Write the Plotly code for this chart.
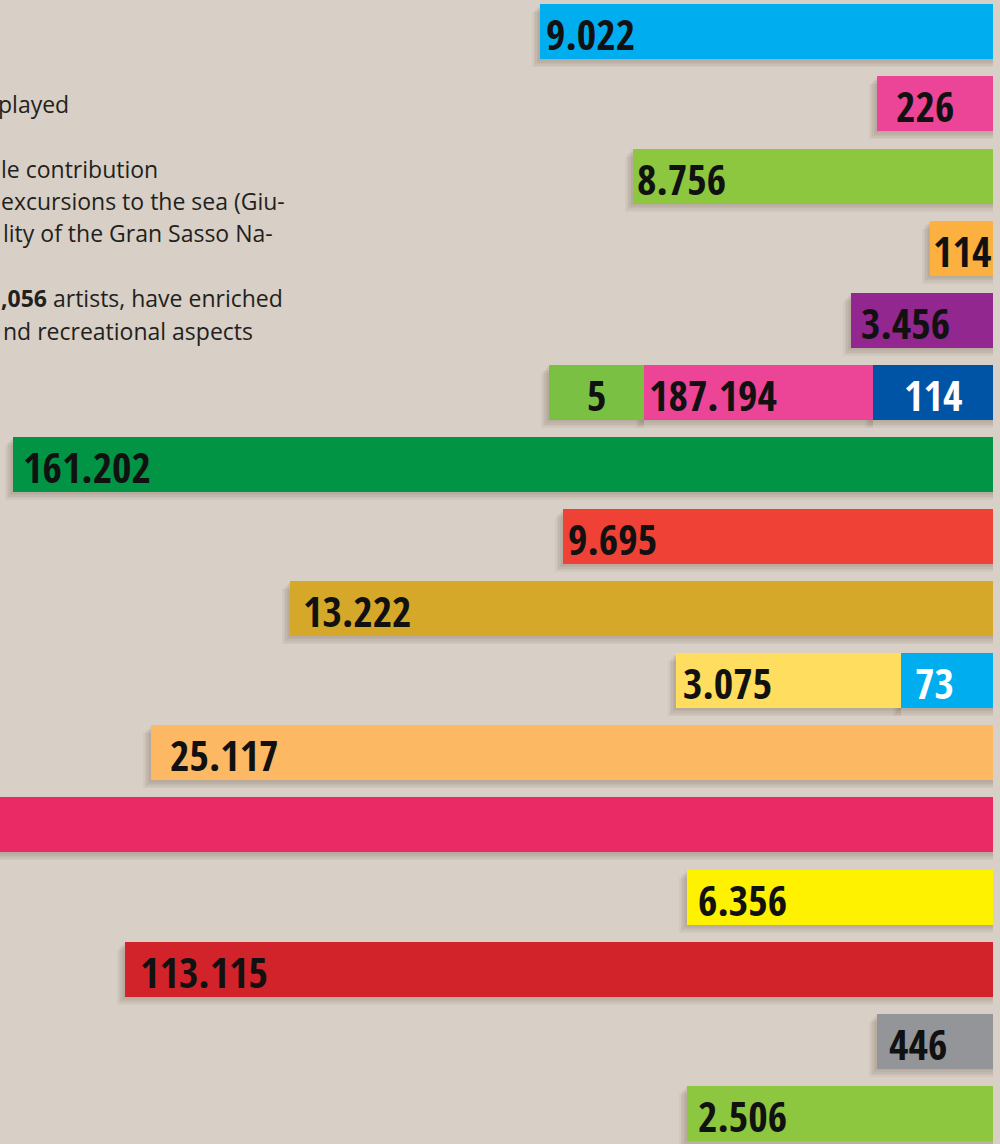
import plotly.graph_objects as go

# ---------------- data ----------------
# one entry per bar segment, top row = 0; segments of a stacked row are listed from the right edge leftwards
seg_row = [0, 1, 2, 3, 4, 5, 5, 5, 6, 7, 8, 9, 9, 10, 11, 12, 13, 14, 15]
seg_length = [453, 116, 360, 63, 142, 120, 229, 95, 980, 430, 703, 92, 225, 842, 1010, 306, 868, 116, 306]
seg_label = ["9.022", "226", "8.756", "114", "3.456", "114", "187.194", "5", "161.202", "9.695",
             "13.222", "73", "3.075", "25.117", "", "6.356", "113.115", "446", "2.506"]

# ---------------- styles ----------------
seg_color = ["#00AEEF", "#EC4598", "#8DC63F", "#FBB040", "#92278F", "#0054A6", "#EC4598", "#7AC143",
             "#009444", "#EF4136", "#D5A82A", "#00AEEF", "#FFDD5E", "#FDB863", "#EA2A64", "#FFF200",
             "#D2232A", "#939598", "#8DC63F"]
label_color = ["#111", "#111", "#111", "#111", "#111", "#FFFFFF", "#111", "#111", "#111", "#111",
               "#111", "#FFFFFF", "#111", "#111", "#111", "#111", "#111", "#111", "#111"]
label_center = [False, False, False, True, False, True, False, True, False, False,
                False, False, False, False, False, False, False, False, False]
label_pad = [4, 17, 2, 0, 8, 0, 3, 0, 8, 3, 11, 12, 5, 17, 0, 9, 13, 10, 9]

text_lines = ["played", "le contribution", "excursions to the sea (Giu-", "lity of the Gran Sasso Na-",
              "<b>,056</b> artists, have enriched", "nd recreational aspects"]
text_line_y = [104, 169, 201, 233, 298, 331]
text_line_x = [-3, 0, 0, 2, 0, 2]

BG = "#D8CFC6"
BAR_W = 0.763

# ---------------- stacking ----------------
seg_base = []
acc = {}
for r, L in zip(seg_row, seg_length):
    b = acc.get(r, 0)
    seg_base.append(b)
    acc[r] = b + L

fig = go.Figure()

# soft drop shadow (several translucent layers)
for k in range(1, 6):
    d = 1.6 * k
    fig.add_trace(go.Bar(
        orientation="h", y=seg_row, x=[L + d for L in seg_length], base=seg_base,
        width=BAR_W, offset=-BAR_W / 2 + d / 72.1,
        marker=dict(color="rgba(70,50,40,0.05)", line=dict(width=0)),
        hoverinfo="skip", showlegend=False))

fig.add_trace(go.Bar(
    orientation="h", y=seg_row, x=seg_length, base=seg_base, width=BAR_W,
    marker=dict(color=seg_color, line=dict(width=0)),
    hoverinfo="skip", showlegend=False))

LABEL_FONT = "Open Sans Condensed, Roboto Condensed, sans-serif"
for r, b, L, t, c, cen, pad in zip(seg_row, seg_base, seg_length, seg_label, label_color, label_center, label_pad):
    if not t:
        continue
    if cen:
        fig.add_annotation(x=b + L / 2, y=r, xref="x", yref="y", text=t, showarrow=False,
                           xanchor="center", yanchor="middle", yshift=-2,
                           font=dict(family=LABEL_FONT, size=42, color=c, weight="bold"))
    else:
        fig.add_annotation(x=b + L, y=r, xref="x", yref="y", text=t, showarrow=False,
                           xanchor="left", yanchor="middle", xshift=pad, yshift=-2,
                           font=dict(family=LABEL_FONT, size=42, color=c, weight="bold"))

for t, py, px in zip(text_lines, text_line_y, text_line_x):
    fig.add_annotation(x=0, y=1 - py / 1144, xref="paper", yref="paper", text=t, showarrow=False,
                       xanchor="left", yanchor="middle", xshift=px - 1,
                       font=dict(family="Open Sans, Noto Sans, sans-serif", size=23, color="#231F20"))

fig.update_layout(
    width=1000, height=1144,
    margin=dict(l=0, r=7, t=0, b=0),
    paper_bgcolor=BG, plot_bgcolor=BG,
    barmode="overlay", bargap=0,
    xaxis=dict(range=[993, 0], visible=False, fixedrange=True),
    yaxis=dict(range=[15.425, -0.442], visible=False, fixedrange=True),
    showlegend=False,
)

fig.write_html("out.html", config={"displayModeBar": False},
               post_script="document.body.style.margin='0';")
